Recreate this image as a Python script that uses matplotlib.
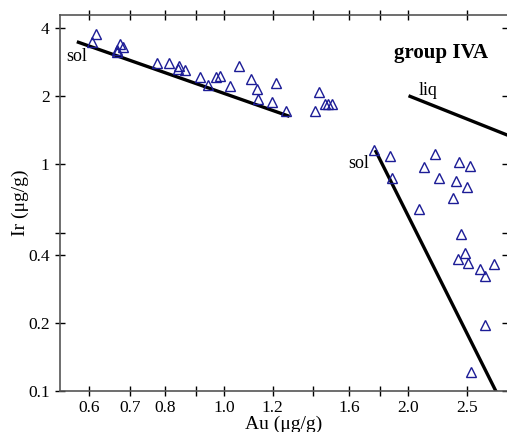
import matplotlib
matplotlib.use("Agg")
import matplotlib.pyplot as plt
import matplotlib.ticker as pltTicker

plt.rcParams["font.family"] = ["Liberation Serif", "DejaVu Serif"]

# MARK: Data

# group IVA iron meteorites, Au vs Ir (ug/g)
au_vals = [
    0.615, 0.607, 0.675, 0.682, 0.668, 0.666, 0.777, 0.812, 0.843, 0.861,
    0.840, 0.913, 0.942, 0.969, 0.984, 1.022, 1.057, 1.105, 1.133, 1.136,
    1.216, 1.198, 1.261, 1.432, 1.409, 1.463, 1.480, 1.501,
    1.763, 1.871, 1.883, 2.218, 2.127, 2.251, 2.428, 2.531, 2.398, 2.500,
    2.371, 2.082, 2.443, 2.483, 2.413, 2.509, 2.629, 2.764, 2.679, 2.679,
    2.537,
]
ir_vals = [
    3.763, 3.486, 3.415, 3.297, 3.215, 3.150, 2.817, 2.817, 2.732, 2.610,
    2.636, 2.437, 2.240, 2.430, 2.455, 2.229, 2.726, 2.374, 2.145, 1.953,
    2.279, 1.890, 1.720, 2.093, 1.720, 1.856, 1.847, 1.843,
    1.157, 1.091, 0.867, 1.110, 0.976, 0.867, 1.020, 0.986, 0.844, 0.796,
    0.712, 0.635, 0.491, 0.4045, 0.382, 0.369, 0.347, 0.3617, 0.321, 0.1965,
    0.1214,
]

# fractional crystallization trends (endpoints)
sol_hi_au = [0.573, 1.279]
sol_hi_ir = [3.48, 1.63]
liq_au = [2.005, 3.0]
liq_ir = [2.01, 1.305]
sol_lo_au = [1.768, 2.793]
sol_lo_ir = [1.157, 0.099]

x_ticks = [0.6, 0.7, 0.8, 0.9, 1.0, 1.2, 1.4, 1.6, 1.8, 2.0, 2.5]
x_labels = ["0.6", "0.7", "0.8", "", "1.0", "1.2", "", "1.6", "", "2.0", "2.5"]
y_ticks = [0.1, 0.2, 0.4, 0.5, 1, 2, 4]
y_labels = ["0.1", "0.2", "0.4", "", "1", "2", "4"]

# MARK: Chart

dpi = 100
fig = plt.figure(figsize=(507 / dpi, 432 / dpi), dpi=dpi)
ax = fig.add_axes([60 / 507, 1 - 391 / 432, 447 / 507, (391 - 14.7) / 432])

ax.set_xscale("log")
ax.set_yscale("log")
ax.set_xlim(0.5377, 2.908)
ax.set_ylim(0.1, 4.58)

line_kw = dict(color="black", lw=2.4, solid_capstyle="butt", clip_on=True)
ax.plot(sol_hi_au, sol_hi_ir, **line_kw)
ax.plot(liq_au, liq_ir, **line_kw)
ax.plot(sol_lo_au, sol_lo_ir, **line_kw)

ax.plot(au_vals, ir_vals, ls="none", marker="^", ms=7.5, mfc="none",
        mec="#1c1c96", mew=1.0)

ax.text(0.550, 3.01, "sol", fontsize=13, ha="left", va="center")
ax.text(2.080, 2.13, "liq", fontsize=13, ha="left", va="center")
ax.text(1.597, 1.013, "sol", fontsize=13, ha="left", va="center")
ax.text(1.900, 3.10, "group IVA", fontsize=15, fontweight="bold",
        ha="left", va="center")

ax.xaxis.set_major_locator(pltTicker.FixedLocator(x_ticks))
ax.xaxis.set_major_formatter(pltTicker.FixedFormatter(x_labels))
ax.xaxis.set_minor_locator(pltTicker.NullLocator())
ax.yaxis.set_major_locator(pltTicker.FixedLocator(y_ticks))
ax.yaxis.set_major_formatter(pltTicker.FixedFormatter(y_labels))
ax.yaxis.set_minor_locator(pltTicker.NullLocator())

ax.tick_params(axis="both", which="major", direction="inout", length=7,
               width=1, labelsize=12.5, top=True, right=True, color="black")
ax.tick_params(axis="x", pad=3)
ax.tick_params(axis="y", pad=4)

for side in ("left", "bottom", "top"):
    ax.spines[side].set_color("#555555")
    ax.spines[side].set_linewidth(1.2)
ax.spines["right"].set_visible(False)

ax.set_xlabel("Au (μg/g)", fontsize=14, labelpad=0)
ax.set_ylabel("Ir (μg/g)", fontsize=14, labelpad=-1)

fig.savefig("out.png", dpi=dpi)
plt.close(fig)
